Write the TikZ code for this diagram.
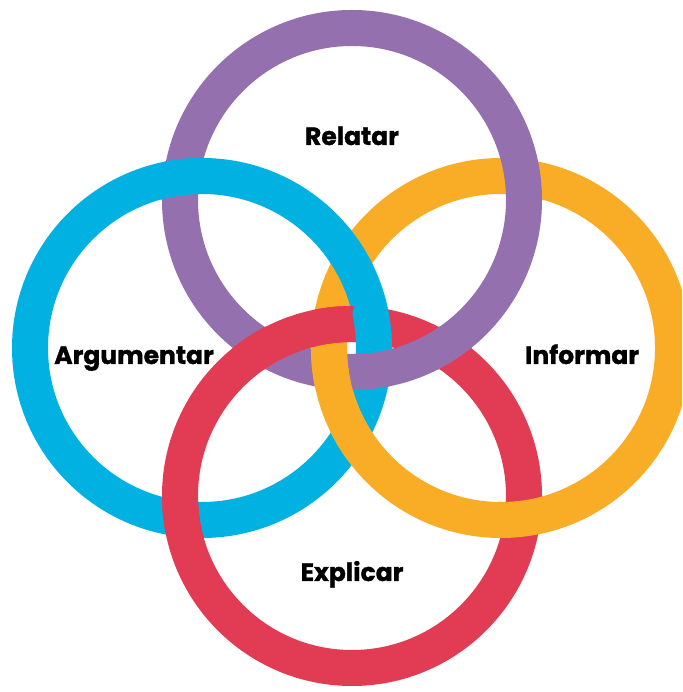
\documentclass[tikz,border=0pt]{standalone}
\usepackage{fontspec}
\setmainfont{Poppins}[BoldFeatures={FakeBold=1.2}]
\definecolor{cP}{HTML}{9570AF}
\definecolor{cB}{HTML}{00B1E1}
\definecolor{cO}{HTML}{F9AD26}
\definecolor{cR}{HTML}{E13C53}
\newcommand\mypatch[4]{%
  \begin{scope}
    \clip #1 circle[radius=45pt];
    \begin{scope}[even odd rule]
      \clip (#4) circle[radius=191.5pt] (#4) circle[radius=152.5pt];
      \draw[ring,#3] (#2) circle[radius=172pt];
    \end{scope}
  \end{scope}}
\begin{document}
\begin{tikzpicture}[x=1pt,y=1pt,
  ring/.style={line width=36pt},
  lbl/.style={font=\bfseries\fontsize{25}{30}\selectfont, text=black, anchor=base, inner sep=0pt}]
\clip (0,0) rectangle (682,692);
\fill[white] (0,0) rectangle (682,692);
\coordinate (P) at (352,492);
\coordinate (B) at (202,344);
\coordinate (O) at (501,344);
\coordinate (R) at (352,196);
\draw[ring,cP] (P) circle[radius=172pt];
\draw[ring,cB] (B) circle[radius=172pt];
\draw[ring,cO] (O) circle[radius=172pt];
\draw[ring,cR] (R) circle[radius=172pt];
% crossings: over ring given first
\mypatch{(181,516)}{B}{cB}{P}
\mypatch{(373,320)}{P}{cP}{B}
\mypatch{(351.5,431)}{B}{cB}{O}
\mypatch{(351.5,257)}{O}{cO}{B}
\mypatch{(262,344)}{R}{cR}{P}
\mypatch{(442,344)}{P}{cP}{R}
\mypatch{(523,515)}{P}{cP}{O}
\mypatch{(330,321)}{O}{cO}{P}
\mypatch{(181,172)}{R}{cR}{B}
\mypatch{(373,368)}{B}{cB}{R}
\mypatch{(523,173)}{O}{cO}{R}
\mypatch{(330,367)}{R}{cR}{O}
\node[lbl] (relatar) at (352,547) {Relatar};
\node[lbl] (argumentar) at (134,328) {Argumentar};
\node[lbl] (informar) at (582,328) {Informar};
\node[lbl] (explicar) at (352,111) {Explicar};
\end{tikzpicture}
\end{document}
